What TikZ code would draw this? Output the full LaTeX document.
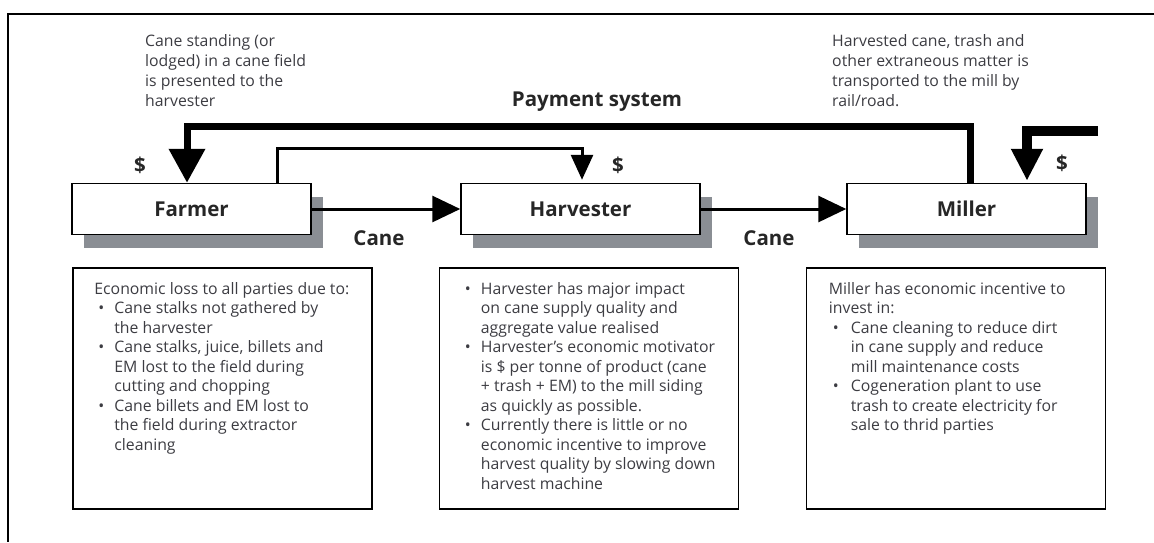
\documentclass[tikz,border=0pt]{standalone}
\usepackage{fontspec}
\setmainfont{Open Sans}
\usetikzlibrary{arrows.meta,shadows}
\definecolor{shadowgrey}{RGB}{138,142,148}
\definecolor{textgrey}{RGB}{60,60,66}
\tikzset{
  mainbox/.style={draw=black, line width=1.5pt, fill=white, minimum width=239pt, minimum height=51pt, inner sep=0pt,
    font=\bfseries\fontsize{20.5}{24}\selectfont, text=black!85,
    drop shadow={shadow xshift=12pt, shadow yshift=-13pt, fill=shadowgrey, opacity=1}},
  infobox/.style={draw=black, line width=1.6pt, minimum width=299pt, minimum height=241pt, inner sep=0pt},
  note/.style={align=left, anchor=north west, inner sep=0pt, text=textgrey, font=\fontsize{15.8}{19.5}\selectfont},
  topnote/.style={note, font=\fontsize{15.8}{20}\selectfont},
  boldlabel/.style={inner sep=0pt, text=black!85, font=\bfseries\fontsize{20.5}{24}\selectfont},
  flow/.style={line width=3pt, -{Triangle[length=28pt,width=26pt]}},
  thinpay/.style={line width=3pt, -{Triangle[length=25pt,width=22pt]}, shorten >=3pt},
  thickpay/.style={line width=7pt, -{Triangle[length=34pt,width=35pt]}},
  millerpay/.style={line width=10pt, -{Triangle[length=32pt,width=30pt]}, shorten >=2pt},
}
\newcommand{\bul}[1]{\makebox[#1][l]{\hspace{4pt}\textbullet}}
\begin{document}
\begin{tikzpicture}[x=1pt,y=1pt]
\useasboundingbox (0,0) rectangle (1154,-542);
% frame
\draw[line width=2pt] (1154,-14) -- (8,-14) -- (8,-542);
% main boxes
\node[mainbox] (farmer) at (191.5,-209) {Farmer};
\node[mainbox] (harvester) at (580.5,-209) {Harvester};
\node[mainbox] (miller) at (966.5,-209) {Miller};
% cane flow
\draw[flow] (farmer.east) -- (harvester.west);
\draw[flow] (harvester.east) -- (miller.west);
\node[boldlabel] (cane1) at (379,-238) {Cane};
\node[boldlabel] (cane2) at (769,-238) {Cane};
% payment system
\draw[thickpay] ([xshift=4pt]miller.north) -- ++(0,56) -| ([xshift=-4.5pt]farmer.north);
\node[boldlabel] (payment) at (597,-102) {Payment system};
\draw[thinpay] ([xshift=85.5pt]farmer.north) -- ++(0,34) -| ([xshift=1.5pt]harvester.north);
\coordinate (millerin) at (1098,-131);
\draw[millerpay] (millerin) -| ([xshift=60.5pt]miller.north);
\node[boldlabel] (d1) at (140,-165) {\$};
\node[boldlabel] (d2) at (618,-165) {\$};
\node[boldlabel] (d3) at (1062,-163) {\$};
% top notes
\node[topnote] (noteleft) at (145,-34) {Cane standing (or\\lodged) in a cane field\\is presented to the\\harvester};
\node[topnote] (noteright) at (832,-34) {Harvested cane, trash and\\other extraneous matter is\\transported to the mill by\\rail/road.};
% info boxes
\node[infobox] (finfo) at (222.5,-388.5) {};
\node[infobox] (hinfo) at (589,-388.5) {};
\node[infobox] (minfo) at (956,-388.5) {};
\node[note] (ftext) at ([xshift=22pt,yshift=-15pt]finfo.north west) {Economic loss to all parties due to:\\
\bul{20pt}Cane stalks not gathered by\\ \hspace*{20pt}the harvester\\
\bul{20pt}Cane stalks, juice, billets and\\ \hspace*{20pt}EM lost to the field during\\ \hspace*{20pt}cutting and chopping\\
\bul{20pt}Cane billets and EM lost to\\ \hspace*{20pt}the field during extractor\\ \hspace*{20pt}cleaning};
\node[note] (htext) at ([xshift=22pt,yshift=-15pt]hinfo.north west) {\bul{20pt}Harvester has major impact\\ \hspace*{20pt}on cane supply quality and\\ \hspace*{20pt}aggregate value realised\\
\bul{20pt}Harvester's economic motivator\\ \hspace*{20pt}is \$ per tonne of product (cane\\ \hspace*{20pt}+ trash + EM) to the mill siding\\ \hspace*{20pt}as quickly as possible.\\
\bul{20pt}Currently there is little or no\\ \hspace*{20pt}economic incentive to improve\\ \hspace*{20pt}harvest quality by slowing down\\ \hspace*{20pt}harvest machine};
\node[note] (mtext) at ([xshift=23pt,yshift=-15pt]minfo.north west) {Miller has economic incentive to\\invest in:\\
\bul{22pt}Cane cleaning to reduce dirt\\ \hspace*{22pt}in cane supply and reduce\\ \hspace*{22pt}mill maintenance costs\\
\bul{22pt}Cogeneration plant to use\\ \hspace*{22pt}trash to create electricity for\\ \hspace*{22pt}sale to thrid parties};
\end{tikzpicture}
\end{document}
